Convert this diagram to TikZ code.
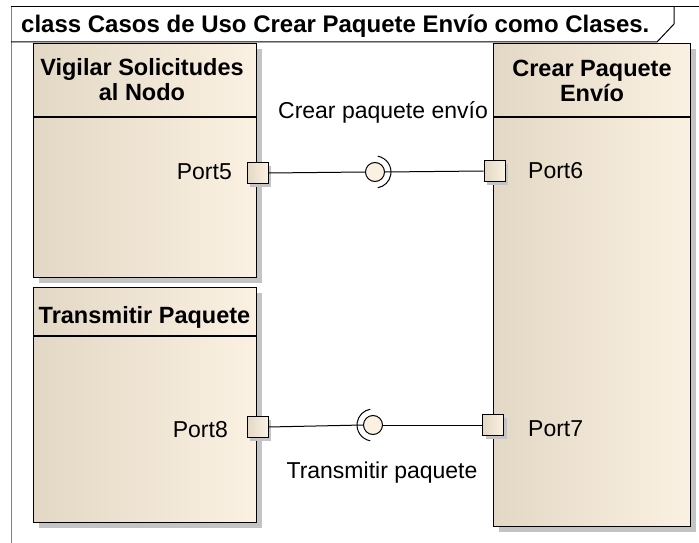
\documentclass[tikz,border=0pt]{standalone}
\usepackage{fontspec}
\setmainfont{Liberation Sans}
\usetikzlibrary{shadows}
\definecolor{beigeL}{HTML}{E3D8C5}
\definecolor{beigeR}{HTML}{FBF1E2}
\definecolor{shadowgray}{HTML}{C4C4C4}
\definecolor{framegray}{HTML}{808080}
\begin{document}
\begin{tikzpicture}[x=1pt,y=-1pt,
  classbox/.style={draw=black, line width=1.2pt, rectangle, inner sep=0pt,
    anchor=north west, left color=beigeL, right color=beigeR,
    drop shadow={shadow xshift=5pt, shadow yshift=-5pt, fill=shadowgray, opacity=1}},
  portbox/.style={draw=black, line width=1pt, rectangle, inner sep=0pt,
    minimum size=21pt, left color=beigeL, right color=beigeR,
    drop shadow={shadow xshift=3pt, shadow yshift=-3pt, fill=shadowgray, opacity=1}},
  iface/.style={circle, draw=black, line width=1pt, fill=beigeR, minimum size=19pt, inner sep=0pt},
  conn/.style={draw=black, line width=1pt},
  boxtitle/.style={font=\bfseries\fontsize{23.5}{25}\selectfont, inner sep=0pt, anchor=base},
  lbl/.style={font=\fontsize{23}{25}\selectfont, inner sep=0pt},
  frametitle/.style={font=\bfseries\fontsize{24}{26}\selectfont, inner sep=0pt, anchor=base west}
]
\useasboundingbox (0,0) rectangle (699,543);
\fill[white] (0,0) rectangle (699,543);

% frame
\draw[framegray, line width=1pt] (11,7) -- (11,543);
\draw[black, line width=1pt] (11,7) -- (699,7);
\draw[black, line width=1pt] (11,42) -- (657,42) -- (674,24) -- (674,7);
\node[frametitle] (title) at (21,33) {class Casos de Uso Crear Paquete Envío como Clases.};

% classes
\node[classbox, minimum width=223pt, minimum height=234pt] (vig) at (33,43) {};
\draw[line width=1.2pt] (vig.west |- 0,117) -- (vig.east |- 0,117);
\node[boxtitle] (vigt1) at (142,75) {Vigilar Solicitudes};
\node[boxtitle] (vigt2) at (142,100) {al Nodo};

\node[classbox, minimum width=223pt, minimum height=235pt] (tra) at (33,287) {};
\draw[line width=1.2pt] (tra.west |- 0,336) -- (tra.east |- 0,336);
\node[boxtitle] (trat) at (144.5,323) {Transmitir Paquete};

\node[classbox, minimum width=197pt, minimum height=483pt] (cre) at (493,43) {};
\draw[line width=1.2pt] (cre.west |- 0,117) -- (cre.east |- 0,117);
\node[boxtitle] (cret1) at (592,77) {Crear Paquete};
\node[boxtitle] (cret2) at (592,102) {Envío};

% ports
\node[portbox] (p5) at (257.5,173) {};
\node[portbox] (p6) at (494.5,171) {};
\node[portbox] (p8) at (257.5,427) {};
\node[portbox] (p7) at (493,425) {};

\node[lbl, anchor=base east] (p5l) at (232,179) {Port5};
\node[lbl, anchor=base west] (p6l) at (528,178) {Port6};
\node[lbl, anchor=base east] (p8l) at (228,437) {Port8};
\node[lbl, anchor=base west] (p7l) at (528,436) {Port7};

% interfaces
\node[iface] (c1) at (375,172) {};
\node[iface] (c2) at (373,425) {};

\draw[conn] (p5.east) -- (c1.west);
\draw[conn] (c1.east) -- (p6.west);
\draw[conn] (c1.center) ++(-80:16) arc[start angle=-80, end angle=80, radius=16];

\draw[conn] (p8.east) -- (c2.west);
\draw[conn] (c2.east) -- (p7.west);
\draw[conn] (c2.center) ++(100:16) arc[start angle=100, end angle=260, radius=16];

\node[lbl, anchor=base] (l1) at (383,118) {Crear paquete envío};
\node[lbl, anchor=base] (l2) at (382,478) {Transmitir paquete};
\end{tikzpicture}
\end{document}
